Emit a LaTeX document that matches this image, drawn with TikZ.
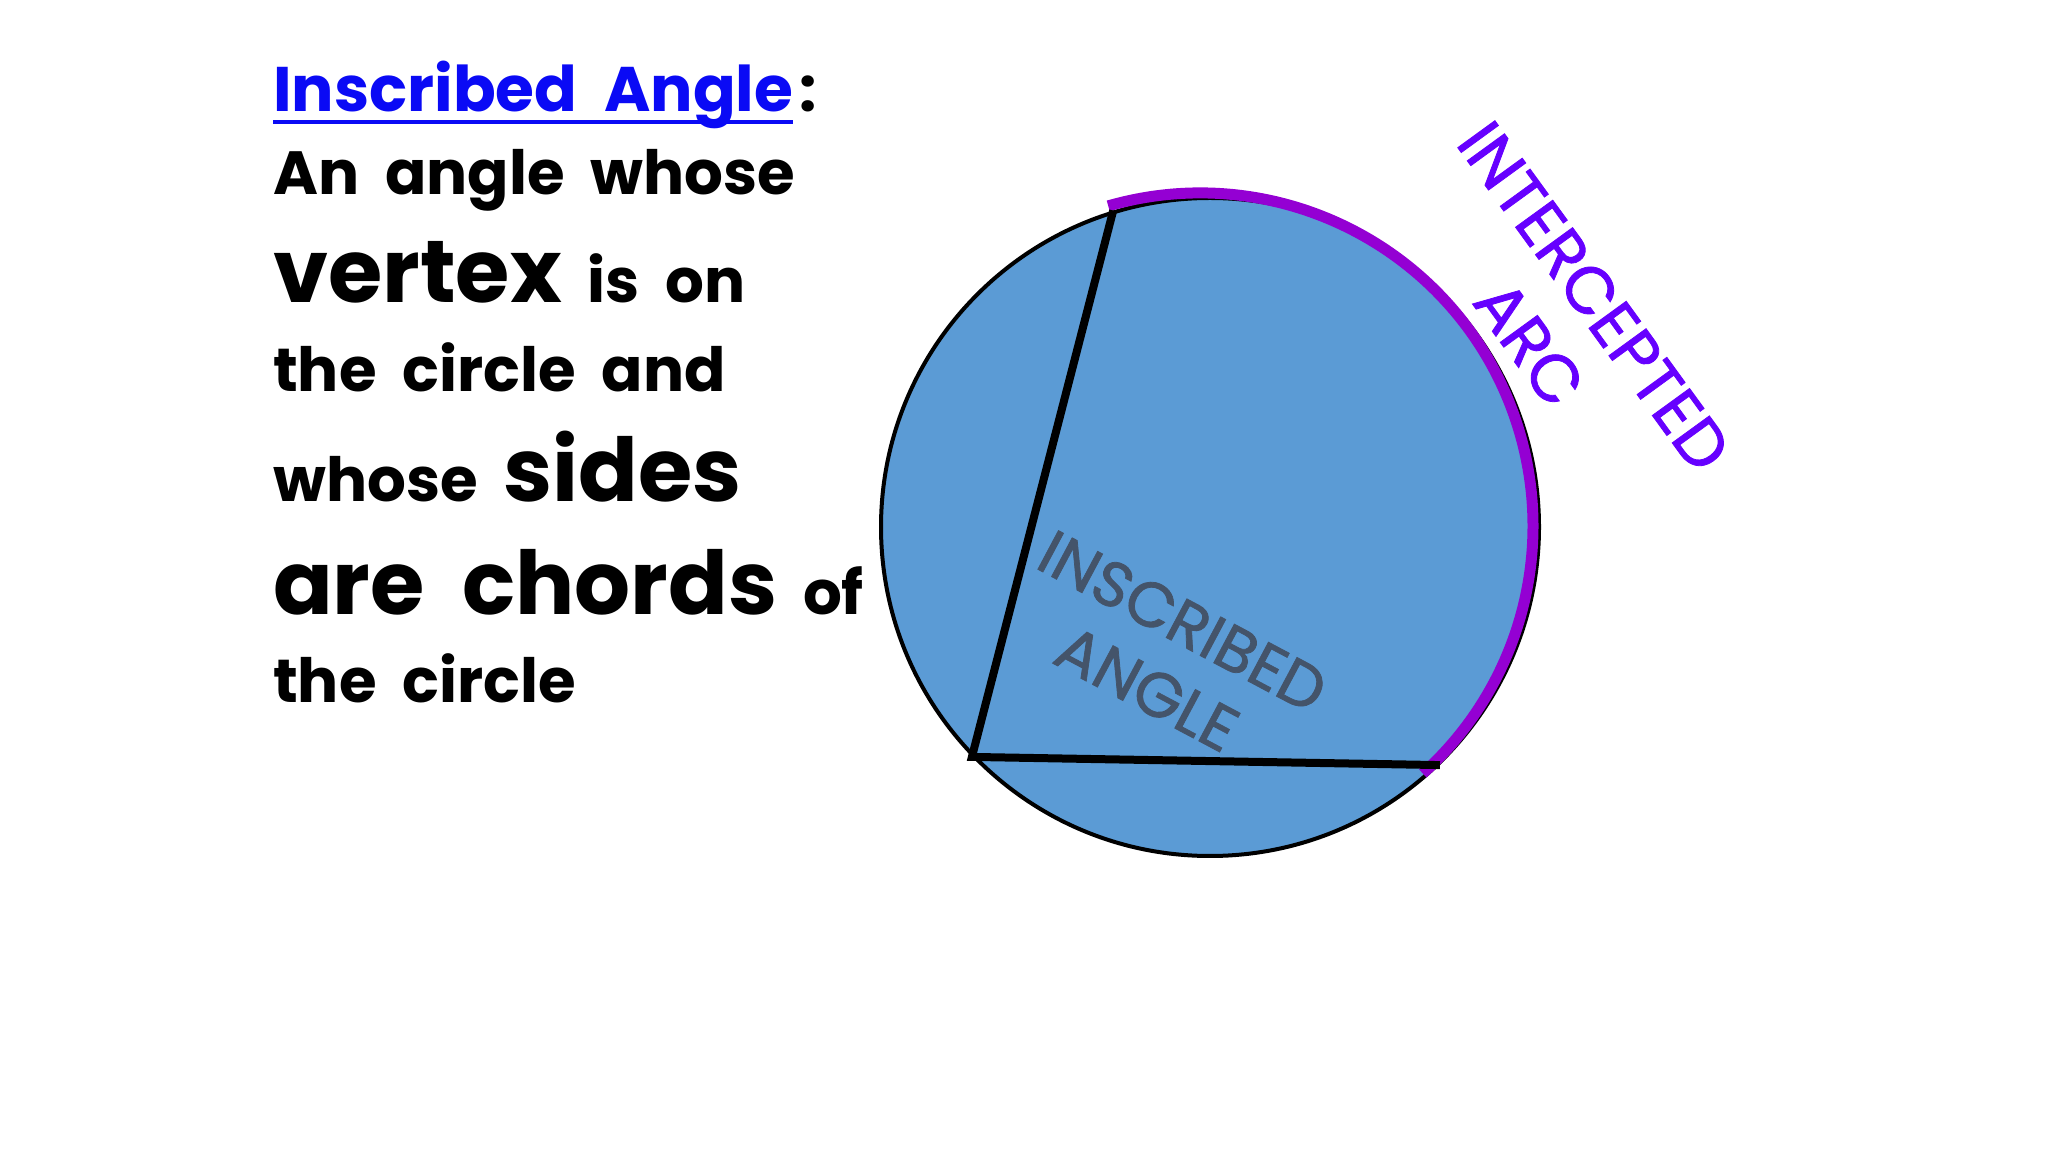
\documentclass[tikz,border=0pt]{standalone}
\usepackage{fontspec}
\setmainfont{Poppins}[WordSpace=2]
\newfontfamily\labelfont{Poppins}[FakeBold=1.2]
\usepackage{tikz}
\usetikzlibrary{positioning}
\definecolor{diskblue}{HTML}{5B9BD5}
\definecolor{titleblue}{HTML}{0A0AF5}
\definecolor{arcpurple}{HTML}{9400D3}
\definecolor{arctext}{HTML}{6600FF}
\definecolor{angletext}{HTML}{44546A}
\newcommand{\normsize}{\fontsize{61}{72}\selectfont}
\newcommand{\bigsize}{\fontsize{88}{100}\selectfont}
\tikzset{
  textline/.style={anchor=base west, inner sep=0pt, font=\normsize\bfseries},
  disk/.style={circle, draw=black, line width=4pt, fill=diskblue, inner sep=0pt, minimum size=658pt},
  chord/.style={line width=8pt, line join=miter},
  arcline/.style={draw=arcpurple, line width=11pt},
  arclabel/.style={align=center, font=\labelfont\fontsize{66}{80}\selectfont, text=arctext},
  anglelabel/.style={align=center, font=\labelfont\fontsize{63}{76}\selectfont, text=angletext},
}

\begin{document}
\begin{tikzpicture}[x=1pt, y=1pt]
  \useasboundingbox (0,0) rectangle (2048,1152);

  % Definition text
  \node[textline, text=titleblue, font=\fontsize{63}{72}\selectfont\bfseries] (title) at (273,1040) {Inscribed Angle};
  \node[textline] (colon) at ([xshift=6]title.base east) {:};
  \draw[titleblue, line width=4pt] ([yshift=-10]title.base west) -- ([yshift=-10]title.base east);
  \node[textline] (whose) at (273,957) {An angle whose};
  \node[textline] (vertex) at (273,849) {{\bigsize vertex} is on};
  \node[textline] (circleand) at (273,760) {the circle and};
  \node[textline] (sides) at (273,650) {whose {\bigsize sides}};
  \node[textline] (chords) at (273,537) {{\bigsize are chords} of};
  \node[textline] (thecircle) at (273,449) {the circle};

  % Circle and angle
  \node[disk] (disk) at (1210,625) {};
  \coordinate (V1) at (disk.107);
  \coordinate (V2) at (disk.224);
  \coordinate (V3) at (disk.314);

  % intercepted arc
  \coordinate (arcctr) at (1200,626);
  \draw[arcline] ([shift={(106:333)}]arcctr) arc[start angle=106, end angle=-48, radius=333];

  \draw[chord] (V1) -- (V2) -- (V3);

  % Labels
  \node[anglelabel, rotate=-28] (inscribed) at (1165,497) {INSCRIBED\\ANGLE};
  \node[arclabel, rotate=-54] (intercepted) at (1562,832) {INTERCEPTED\\ARC};

\end{tikzpicture}
\end{document}
